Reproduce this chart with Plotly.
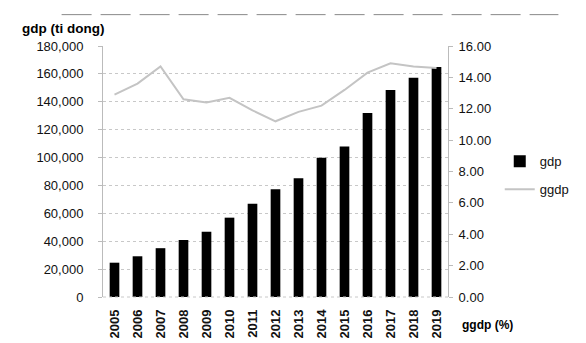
import plotly.graph_objects as go

years = ["2005", "2006", "2007", "2008", "2009", "2010", "2011", "2012",
         "2013", "2014", "2015", "2016", "2017", "2018", "2019"]
gdp = [24600, 29200, 35000, 40900, 46800, 56900, 66900, 77300,
       85100, 99900, 108000, 131900, 148400, 157200, 164900]
ggdp = [12.9, 13.6, 14.7, 12.6, 12.4, 12.7, 11.9, 11.2,
        11.8, 12.2, 13.2, 14.3, 14.9, 14.7, 14.6]

left_ticks = [0, 20000, 40000, 60000, 80000, 100000, 120000, 140000, 160000, 180000]
right_ticks = [0, 2, 4, 6, 8, 10, 12, 14, 16]

FONT = "Liberation Sans"

fig = go.Figure()
fig.add_trace(go.Bar(
    x=years, y=gdp, name="gdp", marker=dict(color="#000000", line=dict(width=0)),
    legendgroup="a", yaxis="y"))
fig.add_trace(go.Scatter(
    x=years, y=ggdp, name="ggdp", mode="lines",
    line=dict(color="#c4c4c4", width=2), legendgroup="b", yaxis="y2"))

fig.update_layout(
    width=586, height=343,
    margin=dict(l=103, r=118, t=46, b=46),
    paper_bgcolor="white", plot_bgcolor="white",
    font=dict(family=FONT, size=13, color="#111111"),
    bargap=0.58,
    showlegend=True,
    legend=dict(x=1.15, y=0.60, xanchor="left", yanchor="top",
                tracegroupgap=8, font=dict(family=FONT, size=13),
                itemwidth=30, bgcolor="rgba(0,0,0,0)"),
    xaxis=dict(type="category", tickangle=-90, showgrid=False, automargin=False,
               showline=False, ticks="", ticklabelstandoff=9,
               tickfont=dict(family=FONT, size=13, color="#111", weight="bold")),
    yaxis=dict(range=[0, 180000], tickvals=left_ticks, tickformat=",",
               showgrid=True, gridcolor="#c8c8c8", griddash="dot", gridwidth=1,
               showline=True, linecolor="#bbbbbb", linewidth=1, ticks="outside",
               ticklen=4, tickcolor="#bbbbbb", zeroline=False, ticklabelstandoff=12,
               automargin=False,
               tickfont=dict(family=FONT, size=13, color="#111")),
    yaxis2=dict(range=[0, 16], tickvals=right_ticks, tickformat=".2f",
                overlaying="y", side="right", showgrid=False, automargin=False,
                showline=True, linecolor="#bbbbbb", linewidth=1, ticks="outside",
                ticklen=4, tickcolor="#bbbbbb", zeroline=False, ticklabelstandoff=3,
                tickfont=dict(family=FONT, size=13, color="#111")),
)

fig.add_annotation(text="<b>gdp (ti dong)</b>", xref="paper", yref="paper",
                   x=-0.24, y=1.03, xanchor="left", yanchor="bottom",
                   showarrow=False, font=dict(family=FONT, size=13.5, color="#000"))
fig.add_annotation(text="<b>ggdp (%)</b>", xref="paper", yref="paper",
                   x=1.035, y=-0.112, xanchor="left", yanchor="middle",
                   showarrow=False, font=dict(family=FONT, size=12, color="#000"))
# zero baseline
fig.add_shape(type="line", xref="paper", yref="paper", x0=0, x1=1, y0=0, y1=0,
              line=dict(color="#c8c8c8", width=1, dash="dot"))
# scanned top border line
fig.add_shape(type="line", xref="paper", yref="paper", x0=-0.12, x1=1.32,
              y0=1.125, y1=1.125, line=dict(color="#888888", width=1, dash="30px,9px"))

fig.write_html("out.html")
